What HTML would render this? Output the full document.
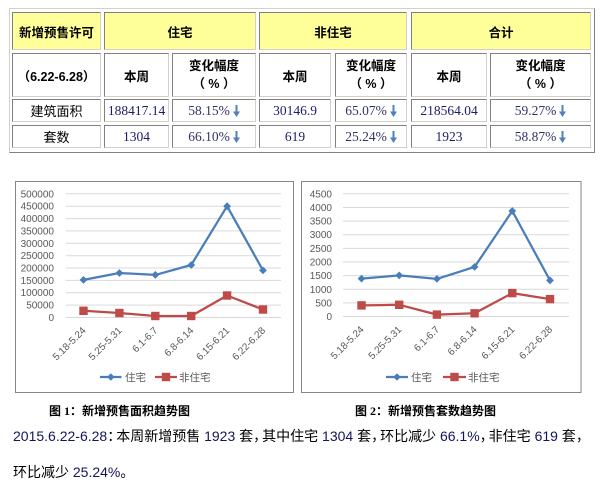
<!DOCTYPE html>
<html><head><meta charset="utf-8">
<style>
html,body{margin:0;padding:0;background:#fff;}
body{width:605px;height:488px;position:relative;overflow:hidden;font-family:"Liberation Sans","Noto Sans CJK SC",sans-serif;}
.outer{position:absolute;left:9px;top:8px;width:586px;height:145px;box-sizing:border-box;border:1px solid;border-color:#d4d0c8 #808080 #808080 #d4d0c8;}
.c{position:absolute;box-sizing:border-box;border:1px solid;border-color:#808080 #d4d0c8 #d4d0c8 #808080;display:flex;align-items:center;justify-content:center;text-align:center;color:#000;white-space:nowrap;}
.y{background:#ffff99;}
.b{font-weight:bold;font-size:12.5px;font-family:"Liberation Sans","Noto Sans CJK SC",sans-serif;}
.r1{top:12px;height:38px;}
.r2{top:53px;height:44px;}
.r3{top:99px;height:23px;}
.r4{top:125px;height:23px;}
.lbl{font-size:13px;font-family:"Liberation Sans","Noto Sans CJK SC",sans-serif;}
.num{font-family:"Liberation Serif",serif;font-size:13.5px;color:#1c1c6c;}
.pct{font-family:"Liberation Serif",serif;font-size:13.5px;color:#333366;}
.pct svg{margin-left:3px;vertical-align:-1px;}
.two{line-height:18px;}
.cap{position:absolute;top:404px;font-size:12px;font-weight:bold;line-height:14px;white-space:nowrap;font-family:"Liberation Serif","Noto Sans CJK SC",sans-serif;}
.p{position:absolute;left:13px;font-size:14px;line-height:20px;white-space:nowrap;color:#000;font-family:"Liberation Sans","Noto Sans CJK SC",sans-serif;}
.p .n{color:#14145a;}
.p .q{letter-spacing:-5px;}
</style></head><body>

<div class="outer"></div>

<!-- Row 1 -->
<div class="c y b r1" style="left:12px;width:89px;">新增预售许可</div>
<div class="c y b r1" style="left:104px;width:152px;">住宅</div>
<div class="c y b r1" style="left:259px;width:148px;">非住宅</div>
<div class="c y b r1" style="left:411px;width:180px;">合计</div>

<!-- Row 2 -->
<div class="c b r2" style="left:12px;width:89px;">（6.22-6.28）</div>
<div class="c b r2" style="left:104px;width:65px;">本周</div>
<div class="c b r2 two" style="left:172px;width:84px;">变化幅度<br>（ % ）</div>
<div class="c b r2" style="left:259px;width:72px;">本周</div>
<div class="c b r2 two" style="left:335px;width:72px;">变化幅度<br>（ % ）</div>
<div class="c b r2" style="left:411px;width:76px;">本周</div>
<div class="c b r2 two" style="left:490px;width:101px;">变化幅度<br>（ % ）</div>

<!-- Row 3 -->
<div class="c lbl r3" style="left:12px;width:89px;">建筑面积</div>
<div class="c num r3" style="left:104px;width:65px;">188417.14</div>
<div class="c pct r3" style="left:172px;width:84px;">58.15%<svg width="7" height="12" viewBox="0 0 7 12"><line x1="3.5" y1="0" x2="3.5" y2="8" stroke="#4f81bd" stroke-width="2"/><polygon points="0,6.5 7,6.5 3.5,12" fill="#4f81bd"/></svg></div>
<div class="c num r3" style="left:259px;width:72px;">30146.9</div>
<div class="c pct r3" style="left:335px;width:72px;">65.07%<svg width="7" height="12" viewBox="0 0 7 12"><line x1="3.5" y1="0" x2="3.5" y2="8" stroke="#4f81bd" stroke-width="2"/><polygon points="0,6.5 7,6.5 3.5,12" fill="#4f81bd"/></svg></div>
<div class="c num r3" style="left:411px;width:76px;">218564.04</div>
<div class="c pct r3" style="left:490px;width:101px;">59.27%<svg width="7" height="12" viewBox="0 0 7 12"><line x1="3.5" y1="0" x2="3.5" y2="8" stroke="#4f81bd" stroke-width="2"/><polygon points="0,6.5 7,6.5 3.5,12" fill="#4f81bd"/></svg></div>

<!-- Row 4 -->
<div class="c lbl r4" style="left:12px;width:89px;">套数</div>
<div class="c num r4" style="left:104px;width:65px;">1304</div>
<div class="c pct r4" style="left:172px;width:84px;">66.10%<svg width="7" height="12" viewBox="0 0 7 12"><line x1="3.5" y1="0" x2="3.5" y2="8" stroke="#4f81bd" stroke-width="2"/><polygon points="0,6.5 7,6.5 3.5,12" fill="#4f81bd"/></svg></div>
<div class="c num r4" style="left:259px;width:72px;">619</div>
<div class="c pct r4" style="left:335px;width:72px;">25.24%<svg width="7" height="12" viewBox="0 0 7 12"><line x1="3.5" y1="0" x2="3.5" y2="8" stroke="#4f81bd" stroke-width="2"/><polygon points="0,6.5 7,6.5 3.5,12" fill="#4f81bd"/></svg></div>
<div class="c num r4" style="left:411px;width:76px;">1923</div>
<div class="c pct r4" style="left:490px;width:101px;">58.87%<svg width="7" height="12" viewBox="0 0 7 12"><line x1="3.5" y1="0" x2="3.5" y2="8" stroke="#4f81bd" stroke-width="2"/><polygon points="0,6.5 7,6.5 3.5,12" fill="#4f81bd"/></svg></div>

<!-- Charts -->
<svg style="position:absolute;left:0;top:0;" width="605" height="488" viewBox="0 0 605 488" font-family="Liberation Sans, Noto Sans CJK SC, sans-serif">
  <!-- Chart 1 -->
  <rect x="15.5" y="181.5" width="278" height="211" fill="#fff" stroke="#868686" stroke-width="1"/>
  <g stroke="#d9d9d9" stroke-width="1">
    <line x1="66" x2="281" y1="317.5" y2="317.5"/>
    <line x1="66" x2="281" y1="305.1" y2="305.1"/>
    <line x1="66" x2="281" y1="292.7" y2="292.7"/>
    <line x1="66" x2="281" y1="280.4" y2="280.4"/>
    <line x1="66" x2="281" y1="268" y2="268"/>
    <line x1="66" x2="281" y1="255.7" y2="255.7"/>
    <line x1="66" x2="281" y1="243.3" y2="243.3"/>
    <line x1="66" x2="281" y1="230.9" y2="230.9"/>
    <line x1="66" x2="281" y1="218.6" y2="218.6"/>
    <line x1="66" x2="281" y1="206.2" y2="206.2"/>
    <line x1="66" x2="281" y1="193.8" y2="193.8"/>
  </g>
  <g font-size="10" fill="#595959" text-anchor="end">
    <text x="54" y="321">0</text>
    <text x="54" y="308.6">50000</text>
    <text x="54" y="296.2">100000</text>
    <text x="54" y="283.9">150000</text>
    <text x="54" y="271.5">200000</text>
    <text x="54" y="259.2">250000</text>
    <text x="54" y="246.8">300000</text>
    <text x="54" y="234.4">350000</text>
    <text x="54" y="222.1">400000</text>
    <text x="54" y="209.7">450000</text>
    <text x="54" y="197.3">500000</text>
  </g>
  <g font-size="10" fill="#595959" text-anchor="end">
    <text transform="translate(86.5,331) rotate(-45)">5.18-5.24</text>
    <text transform="translate(122.4,331) rotate(-45)">5.25-5.31</text>
    <text transform="translate(158.3,331) rotate(-45)">6.1-6.7</text>
    <text transform="translate(194.2,331) rotate(-45)">6.8-6.14</text>
    <text transform="translate(230.1,331) rotate(-45)">6.15-6.21</text>
    <text transform="translate(266,331) rotate(-45)">6.22-6.28</text>
  </g>
  <polyline fill="none" stroke="#4a7ebb" stroke-width="2.25" stroke-linejoin="round" points="83.5,279.9 119.4,273 155.3,274.9 191.2,265 227.1,206.2 263,270.4"/>
  <g fill="#4a7ebb">
    <polygon points="83.5,276 87.4,279.9 83.5,283.8 79.6,279.9"/>
    <polygon points="119.4,269.1 123.3,273 119.4,276.9 115.5,273"/>
    <polygon points="155.3,271 159.2,274.9 155.3,278.8 151.4,274.9"/>
    <polygon points="191.2,261.1 195.1,265 191.2,268.9 187.3,265"/>
    <polygon points="227.1,202.3 231,206.2 227.1,210.1 223.2,206.2"/>
    <polygon points="263,266.5 266.9,270.4 263,274.3 259.1,270.4"/>
  </g>
  <polyline fill="none" stroke="#be4b48" stroke-width="2.25" stroke-linejoin="round" points="83.5,310.8 119.4,313 155.3,316 191.2,316 227.1,295.5 263,309.5"/>
  <g fill="#be4b48">
    <rect x="79.3" y="306.6" width="8.4" height="8.4"/>
    <rect x="115.2" y="308.8" width="8.4" height="8.4"/>
    <rect x="151.1" y="311.8" width="8.4" height="8.4"/>
    <rect x="187" y="311.8" width="8.4" height="8.4"/>
    <rect x="222.9" y="291.3" width="8.4" height="8.4"/>
    <rect x="258.8" y="305.3" width="8.4" height="8.4"/>
  </g>
  <!-- legend 1 -->
  <line x1="100" x2="121.5" y1="377" y2="377" stroke="#4a7ebb" stroke-width="2.25"/>
  <polygon points="110.8,373.2 114.6,377 110.8,380.8 107,377" fill="#4a7ebb"/>
  <text x="125" y="381" font-size="10.5" fill="#595959">住宅</text>
  <line x1="155" x2="177" y1="377" y2="377" stroke="#be4b48" stroke-width="2.25"/>
  <rect x="161.8" y="372.8" width="8.4" height="8.4" fill="#be4b48"/>
  <text x="179" y="381" font-size="10.5" fill="#595959">非住宅</text>

  <!-- Chart 2 -->
  <rect x="301.5" y="181.5" width="279.5" height="211" fill="#fff" stroke="#868686" stroke-width="1"/>
  <g stroke="#d9d9d9" stroke-width="1">
    <line x1="343" x2="569" y1="316.5" y2="316.5"/>
    <line x1="343" x2="569" y1="302.9" y2="302.9"/>
    <line x1="343" x2="569" y1="289.3" y2="289.3"/>
    <line x1="343" x2="569" y1="275.6" y2="275.6"/>
    <line x1="343" x2="569" y1="262" y2="262"/>
    <line x1="343" x2="569" y1="248.4" y2="248.4"/>
    <line x1="343" x2="569" y1="234.7" y2="234.7"/>
    <line x1="343" x2="569" y1="221.1" y2="221.1"/>
    <line x1="343" x2="569" y1="207.5" y2="207.5"/>
    <line x1="343" x2="569" y1="193.8" y2="193.8"/>
  </g>
  <g font-size="10" fill="#595959" text-anchor="end">
    <text x="332" y="320">0</text>
    <text x="332" y="306.4">500</text>
    <text x="332" y="292.8">1000</text>
    <text x="332" y="279.1">1500</text>
    <text x="332" y="265.5">2000</text>
    <text x="332" y="251.9">2500</text>
    <text x="332" y="238.2">3000</text>
    <text x="332" y="224.6">3500</text>
    <text x="332" y="211">4000</text>
    <text x="332" y="197.3">4500</text>
  </g>
  <g font-size="10" fill="#595959" text-anchor="end">
    <text transform="translate(364.5,330) rotate(-45)">5.18-5.24</text>
    <text transform="translate(402.2,330) rotate(-45)">5.25-5.31</text>
    <text transform="translate(439.9,330) rotate(-45)">6.1-6.7</text>
    <text transform="translate(477.6,330) rotate(-45)">6.8-6.14</text>
    <text transform="translate(515.3,330) rotate(-45)">6.15-6.21</text>
    <text transform="translate(553,330) rotate(-45)">6.22-6.28</text>
  </g>
  <polyline fill="none" stroke="#4a7ebb" stroke-width="2.25" stroke-linejoin="round" points="361.5,278.6 399.2,275.4 436.9,278.9 474.6,266.9 512.3,211 550,280.4"/>
  <g fill="#4a7ebb">
    <polygon points="361.5,274.7 365.4,278.6 361.5,282.5 357.6,278.6"/>
    <polygon points="399.2,271.5 403.1,275.4 399.2,279.3 395.3,275.4"/>
    <polygon points="436.9,275 440.8,278.9 436.9,282.8 433,278.9"/>
    <polygon points="474.6,263 478.5,266.9 474.6,270.8 470.7,266.9"/>
    <polygon points="512.3,207.1 516.2,211 512.3,214.9 508.4,211"/>
    <polygon points="550,276.5 553.9,280.4 550,284.3 546.1,280.4"/>
  </g>
  <polyline fill="none" stroke="#be4b48" stroke-width="2.25" stroke-linejoin="round" points="361.5,305.4 399.2,304.8 436.9,314.6 474.6,313.3 512.3,293.1 550,299.1"/>
  <g fill="#be4b48">
    <rect x="357.3" y="301.2" width="8.4" height="8.4"/>
    <rect x="395" y="300.6" width="8.4" height="8.4"/>
    <rect x="432.7" y="310.4" width="8.4" height="8.4"/>
    <rect x="470.4" y="309.1" width="8.4" height="8.4"/>
    <rect x="508.1" y="288.9" width="8.4" height="8.4"/>
    <rect x="545.8" y="294.9" width="8.4" height="8.4"/>
  </g>
  <!-- legend 2 -->
  <line x1="386" x2="408" y1="377" y2="377" stroke="#4a7ebb" stroke-width="2.25"/>
  <polygon points="397,373.2 400.8,377 397,380.8 393.2,377" fill="#4a7ebb"/>
  <text x="411" y="381" font-size="10.5" fill="#595959">住宅</text>
  <line x1="443" x2="466" y1="377" y2="377" stroke="#be4b48" stroke-width="2.25"/>
  <rect x="450.3" y="372.8" width="8.4" height="8.4" fill="#be4b48"/>
  <text x="468" y="381" font-size="10.5" fill="#595959">非住宅</text>
</svg>

<div class="cap" style="left:49px;">图 1：新增预售面积趋势图</div>
<div class="cap" style="left:355px;">图 2：新增预售套数趋势图</div>

<div class="p" style="top:426px;"><span class="n">2015.6.22-6.28</span><span class="q">：</span>本周新增预售 <span class="n">1923</span> 套<span class="q">，</span>其中住宅 <span class="n">1304</span> 套<span class="q">，</span>环比减少 <span class="n">66.1%</span><span class="q">，</span>非住宅 <span class="n">619</span> 套<span class="q">，</span></div>
<div class="p" style="top:462px;">环比减少 <span class="n">25.24%</span>。</div>

</body></html>
